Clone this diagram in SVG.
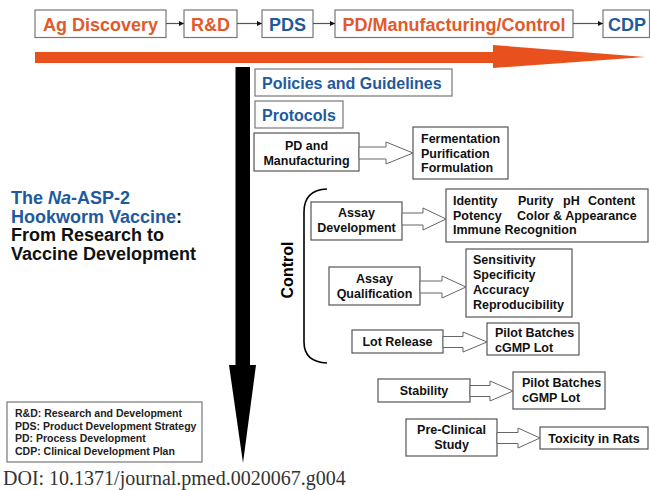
<svg xmlns="http://www.w3.org/2000/svg" width="650" height="490" viewBox="0 0 650 490">
<style>
  text { font-family: "Liberation Sans", Arial, sans-serif; font-weight: bold; }
  text.doi { font-family: "Liberation Serif", "Times New Roman", serif; font-weight: normal; font-size: 20px; fill: #333; }
  .box { fill: #fff; stroke: #555; stroke-width: 1.2; }
  .tbox { fill: #fff; stroke: #777; stroke-width: 1.2; }
  .blue { fill: #1f5a9e; }
  .top { font-size: 18px; }
  .n { font-size: 12.5px; fill: #111; }
  .c { text-anchor: middle; }
  .harrow { fill: #fff; stroke: #666; stroke-width: 1; }
  .link { stroke: #555; stroke-width: 1.2; fill: none; marker-end: url(#ah); }
  .leg { font-size: 10.5px; fill: #222; }
</style>
<defs>
  <marker id="ah" viewBox="0 0 10 10" refX="10" refY="5" markerWidth="5" markerHeight="5" orient="auto" markerUnits="userSpaceOnUse">
    <path d="M0,0 L10,5 L0,10 z" fill="#111"/>
  </marker>
</defs>
<rect width="650" height="490" fill="#fff"/>

<!-- top row -->
<g id="ag-discovery"><rect class="tbox" x="35" y="10" width="131" height="27.5"/><text class="top c" x="100.5" y="31" fill="#e2592b">Ag Discovery</text></g>
<g id="rnd"><rect class="tbox" x="184" y="10" width="53" height="27.5"/><text class="top c" x="210.5" y="31" fill="#e2592b">R&amp;D</text></g>
<g id="pds"><rect class="tbox" x="262" y="10" width="51" height="27.5"/><text class="top c blue" x="287.5" y="31">PDS</text></g>
<g id="pdmc"><rect class="tbox" x="335" y="10" width="238" height="27.5"/><text class="top c" x="454" y="31" fill="#e2592b">PD/Manufacturing/Control</text></g>
<g id="cdp"><rect class="tbox" x="603" y="10" width="46.5" height="27.5"/><text class="top blue" x="608" y="31">CDP</text></g>

<g id="timeline">
  <polygon points="35,52 493,52 493,45 645,57 493,68 493,63 35,63" fill="#e8501d"/>
  <polygon points="235.5,67 250,67 250,365 256,365 243,463 229,365 235.5,365" fill="#000"/>
</g>

<g id="policies"><rect class="tbox" x="255" y="69" width="197" height="27"/><text class="blue" x="262" y="89" font-size="16">Policies and Guidelines</text></g>
<g id="protocols"><rect class="tbox" x="255" y="101" width="88" height="27"/><text class="blue" x="262" y="121" font-size="16">Protocols</text></g>

<g id="pd-manufacturing"><rect class="box" x="254" y="133" width="105" height="38"/><text class="n c" x="306.5" y="150">PD and</text><text class="n c" x="306.5" y="165">Manufacturing</text></g>
<g id="fermentation"><rect class="box" x="413" y="127" width="95" height="52"/><text class="n" x="421" y="143">Fermentation</text><text class="n" x="421" y="157.5">Purification</text><text class="n" x="421" y="172">Formulation</text></g>

<g id="control-bracket">
  <path d="M327,189 Q304,190 304,212 L304,342 Q304,362 327,363" fill="none" stroke="#000" stroke-width="1.6"/>
  <text transform="translate(293,270) rotate(-90)" text-anchor="middle" font-size="16" fill="#000">Control</text>
</g>

<g id="assay-development"><rect class="box" x="311" y="202" width="91" height="38"/><text class="n c" x="356.5" y="217">Assay</text><text class="n c" x="356.5" y="232">Development</text></g>
<g id="identity"><rect class="box" x="446" y="189" width="202" height="53"/>
  <text class="n" y="205"><tspan x="453">Identity</tspan><tspan x="518">Purity</tspan><tspan x="563">pH</tspan><tspan x="588">Content</tspan></text>
  <text class="n" y="219.5"><tspan x="453">Potency</tspan><tspan x="517">Color &amp; Appearance</tspan></text>
  <text class="n" x="453" y="234">Immune Recognition</text>
</g>

<g id="assay-qualification"><rect class="box" x="329" y="267" width="91" height="38"/><text class="n c" x="374.5" y="283">Assay</text><text class="n c" x="374.5" y="297.5">Qualification</text></g>
<g id="sensitivity"><rect class="box" x="466" y="249" width="106" height="68"/><text class="n" x="473" y="263.5">Sensitivity</text><text class="n" x="473" y="278.5">Specificity</text><text class="n" x="473" y="293.5">Accuracy</text><text class="n" x="473" y="308.5">Reproducibility</text></g>

<g id="lot-release"><rect class="box" x="352" y="330" width="91" height="23"/><text class="n c" x="397.5" y="346">Lot Release</text></g>
<g id="pilot-1"><rect class="box" x="487" y="323" width="92" height="32"/><text class="n" x="495" y="337">Pilot Batches</text><text class="n" x="495" y="352">cGMP Lot</text></g>

<g id="stability"><rect class="box" x="378" y="379" width="92" height="23"/><text class="n c" x="424" y="395">Stability</text></g>
<g id="pilot-2"><rect class="box" x="513" y="372" width="92" height="37"/><text class="n" x="522" y="386.5">Pilot Batches</text><text class="n" x="522" y="402">cGMP Lot</text></g>

<g id="pre-clinical"><rect class="box" x="406" y="419" width="91" height="37"/><text class="n c" x="451.5" y="434">Pre-Clinical</text><text class="n c" x="451.5" y="449">Study</text></g>
<g id="toxicity"><rect class="box" x="540" y="427" width="108" height="22"/><text class="n c" x="594" y="443">Toxicity in Rats</text></g>

<g id="connectors">
  <line class="link" x1="166" y1="23.5" x2="184" y2="23.5"/>
  <line class="link" x1="237" y1="23.5" x2="262" y2="23.5"/>
  <line class="link" x1="313" y1="23.5" x2="335" y2="23.5"/>
  <line class="link" x1="573" y1="23.5" x2="603" y2="23.5"/>
  <polygon class="harrow" points="359,147 386,147 386,142 413,153 386,164 386,159 359,159"/>
  <polygon class="harrow" points="402,213 423,213 423,208 446,219 423,230 423,225 402,225"/>
  <polygon class="harrow" points="420,281 442,281 442,276 466,287 442,298 442,293 420,293"/>
  <polygon class="harrow" points="443,336.5 463,336.5 463,332 487,342 463,352 463,347.5 443,347.5"/>
  <polygon class="harrow" points="470,385.5 490,385.5 490,381 513,391 490,401 490,396.5 470,396.5"/>
  <polygon class="harrow" points="497,432.5 518,432.5 518,428 540,438 518,448 518,443.5 497,443.5"/>
</g>

<g id="title">
  <text font-size="18" x="11" y="204"><tspan fill="#1f5a9e">The </tspan><tspan fill="#1f5a9e" font-style="italic">Na</tspan><tspan fill="#1f5a9e">-ASP-2</tspan></text>
  <text font-size="18" x="11" y="222.5"><tspan fill="#1f5a9e">Hookworm Vaccine</tspan><tspan fill="#111">:</tspan></text>
  <text font-size="18" x="11" y="241" fill="#111">From Research to</text>
  <text font-size="18" x="11" y="259.5" fill="#111">Vaccine Development</text>
</g>

<g id="legend">
  <rect x="7" y="402" width="195" height="60" fill="#fff" stroke="#777" stroke-width="1.2"/>
  <text class="leg" x="15" y="417">R&amp;D: Research and Development</text>
  <text class="leg" x="15" y="429.5">PDS: Product Development Strategy</text>
  <text class="leg" x="15" y="442">PD: Process Development</text>
  <text class="leg" x="15" y="455">CDP: Clinical Development Plan</text>
</g>

<text class="doi" x="3" y="485">DOI: 10.1371/journal.pmed.0020067.g004</text>
</svg>
